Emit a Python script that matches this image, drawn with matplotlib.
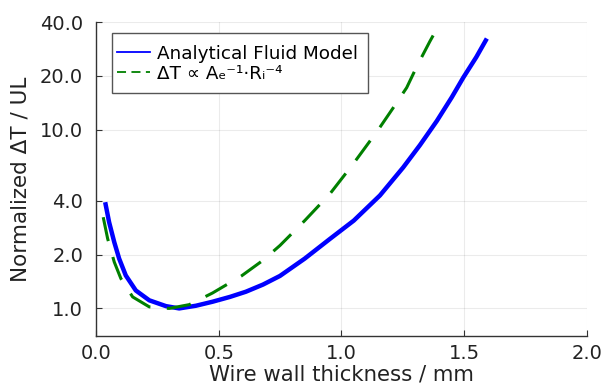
import matplotlib
matplotlib.use("Agg")
import matplotlib.pyplot as plt
from matplotlib.lines import Line2D
from matplotlib.patches import Rectangle
from matplotlib.ticker import FixedLocator, FixedFormatter, NullLocator

# Data
blue_x = [0.036, 0.052, 0.073, 0.093, 0.120, 0.161, 0.216, 0.284, 0.338, 0.406, 0.474, 0.545,
          0.61, 0.68, 0.749, 0.85, 0.953, 1.05, 1.157, 1.252, 1.32, 1.389, 1.45, 1.497, 1.55, 1.593]
blue_y = [3.93, 3.04, 2.35, 1.90, 1.53, 1.26, 1.11, 1.03, 1.0, 1.035, 1.09, 1.16,
          1.24, 1.36, 1.52, 1.90, 2.45, 3.1, 4.29, 6.16, 8.2, 11.2, 15.2, 19.6, 25.5, 32.4]

green_x = [0.028, 0.046, 0.073, 0.100, 0.148, 0.216, 0.297, 0.379, 0.474, 0.592, 0.68, 0.749,
           0.85, 0.953, 1.05, 1.150, 1.21, 1.266, 1.31, 1.361, 1.402]
green_y = [3.24, 2.46, 1.82, 1.47, 1.16, 1.02, 1.0, 1.05, 1.22, 1.52, 1.86, 2.25,
           3.1, 4.38, 6.5, 10.0, 13.2, 17.2, 23.0, 31.3, 39.5]

series_labels = ["Analytical Fluid Model", "ΔT ∝ Aₑ⁻¹·Rᵢ⁻⁴"]
x_ticks = [0.0, 0.5, 1.0, 1.5, 2.0]
x_tick_labels = ["0.0", "0.5", "1.0", "1.5", "2.0"]
y_ticks = [1, 2, 4, 10, 20, 40]
y_tick_labels = ["1.0", "2.0", "4.0", "10.0", "20.0", "40.0"]

plt.rcParams['font.family'] = ['DejaVu Sans']

fig = plt.figure(figsize=(6.06, 3.89), dpi=100)
ax = fig.add_axes([0.159, 0.136, 0.809, 0.807])

ax.plot(blue_x, blue_y, color="#0000ff", lw=3.2, solid_capstyle="butt",
        solid_joinstyle="round", zorder=3)
ax.plot(green_x, green_y, color="#008000", lw=2.2, dashes=(8, 5.4), zorder=3)

ax.set_yscale("log")
ax.set_xlim(0, 2.0)
ax.set_ylim(0.7, 40)
ax.xaxis.set_major_locator(FixedLocator(x_ticks))
ax.xaxis.set_major_formatter(FixedFormatter(x_tick_labels))
ax.yaxis.set_major_locator(FixedLocator(y_ticks))
ax.yaxis.set_major_formatter(FixedFormatter(y_tick_labels))
ax.yaxis.set_minor_locator(NullLocator())

ax.grid(True, color="black", alpha=0.08, lw=0.8)
ax.set_axisbelow(True)
for s in ["top", "right"]:
    ax.spines[s].set_visible(False)
for s in ["left", "bottom"]:
    ax.spines[s].set_color("#333333")
    ax.spines[s].set_linewidth(1.0)
ax.tick_params(direction="in", length=4, width=0.8, color="#333333",
               labelsize=14, labelcolor="#222222")
ax.tick_params(axis="x", pad=5.5)
ax.tick_params(axis="y", pad=9.5)

ax.set_xlabel("Wire wall thickness / mm", fontsize=15.3, color="#222222", labelpad=1)
ax.set_ylabel("Normalized ΔT / UL", fontsize=15.5, color="#222222", labelpad=7)

# legend (frame drawn separately to match the reference padding)
frame = Rectangle((0.0322, 0.773), 0.5210, 0.194, transform=ax.transAxes,
                  facecolor="white", edgecolor="#555555", lw=1.0, zorder=4)
ax.add_patch(frame)
handles = [Line2D([], [], color="#0000ff", lw=1.3),
           Line2D([], [], color="#008000", lw=1.3, dashes=(5, 3))]
leg = ax.legend(handles, series_labels, loc="center left", bbox_to_anchor=(0.0424, 0.868),
                fontsize=13.2, frameon=False, handlelength=1.8,
                handletextpad=0.37, borderpad=0.0, labelspacing=0.12, borderaxespad=0)
leg.set_zorder(5)

fig.savefig("out.png", dpi=100)
